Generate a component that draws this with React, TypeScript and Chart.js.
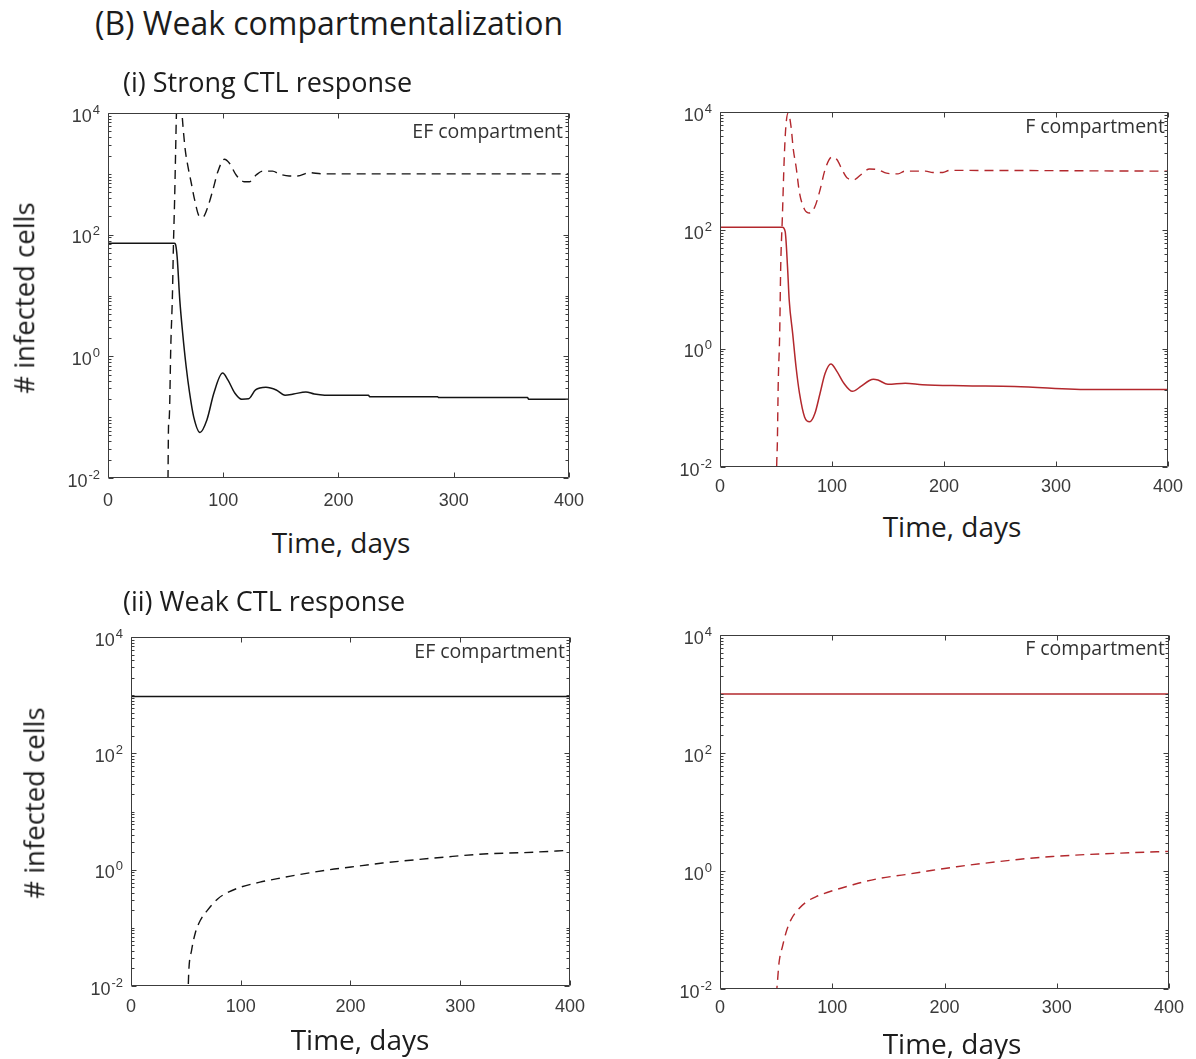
import React, { useEffect, useRef } from "react";
import { Chart, registerables } from "chart.js";

Chart.register(...registerables);

// ---------------- data ----------------
const X_TICKS = [0, 100, 200, 300, 400];
const Y_TICK_EXPONENTS = [-2, 0, 2, 4];
const Y_TICK_BASE = "10";
const Y_TICK_POWERS = ["-2", "0", "2", "4"];

// (i) Strong CTL response, EF compartment
const strongEF_solidDays = [0, 57.5, 58.5, 60, 62.3, 64.8, 67.8, 70.8, 74.4, 79.8, 85.8, 91.9, 99.4, 104, 110, 116, 122, 128, 137, 146, 153.6, 161, 171.7, 179, 188, 226, 227, 286, 287, 364, 365, 400];
const strongEF_solidCells = [72, 72, 70, 43, 8.4, 2.4, 0.68, 0.25, 0.1, 0.056, 0.09, 0.25, 0.53, 0.41, 0.25, 0.197, 0.2, 0.28, 0.31, 0.28, 0.23, 0.24, 0.26, 0.24, 0.23, 0.23, 0.217, 0.217, 0.21, 0.21, 0.197, 0.197];
const strongEF_dashedDays = [50, 52.0, 52.5, 53.2, 54.5, 55.9, 56.8, 57.8, 58.7, 59.4, 61.5, 63.8, 65.1, 67, 69.4, 72.3, 75.2, 79.5, 82.3, 86.7, 91, 95.3, 101, 105.4, 111.2, 118.4, 122.7, 128.5, 134.2, 142.8, 148.6, 157.2, 164.4, 174.5, 186, 400];
const strongEF_dashedCells = [0.001, 0.008, 0.07, 0.1, 1.5, 10, 70, 370, 2450, 10000, 25000, 12000, 5950, 2500, 1310, 700, 372, 198, 195, 290, 542, 1084, 1734, 1490, 955, 743, 743, 955, 1110, 1110, 995, 920, 920, 1045, 1000, 1000];

// (i) Strong CTL response, F compartment
const strongF_solidDays = [0, 55.7, 58.2, 60.3, 61.8, 64.9, 67.9, 71, 75.5, 80.1, 84.7, 89.3, 93.8, 99, 104.5, 110.6, 118.2, 125.8, 133.4, 137, 141, 150, 165.4, 180.7, 217, 263, 334, 400];
const strongF_solidCells = [113, 113, 95, 24, 6.6, 1.8, 0.49, 0.175, 0.07, 0.058, 0.08, 0.175, 0.38, 0.55, 0.41, 0.26, 0.19, 0.23, 0.29, 0.305, 0.295, 0.25, 0.26, 0.245, 0.236, 0.23, 0.204, 0.204];
const strongF_dashedDays = [50, 50.6, 51.2, 52, 53.3, 54.2, 55.7, 57.3, 58.8, 60.9, 63.4, 65.5, 67.9, 71, 75.5, 80.1, 84.7, 89.3, 93.8, 99.9, 104.5, 109, 113.6, 119.7, 125.8, 133.4, 141, 148.7, 159, 165, 183.7, 190, 199, 205, 400];
const strongF_dashedCells = [0.001, 0.01, 0.025, 0.26, 1.8, 24, 170, 1560, 5700, 9600, 5700, 2300, 1200, 430, 225, 196, 250, 480, 1060, 1730, 1560, 1060, 765, 715, 870, 1085, 1060, 925, 900, 1000, 1000, 950, 950, 1030, 1000];

// (ii) Weak CTL response, EF compartment
const weakEF_solidDays = [0, 400];
const weakEF_solidCells = [950, 950];
const weakEF_dashedDays = [51.8, 52.7, 55.2, 58.4, 63.2, 69.6, 79.2, 88.7, 99.9, 117.5, 133.4, 149.4, 181.3, 200.5, 229.2, 261, 293, 325, 357, 400];
const weakEF_dashedCells = [0.006, 0.0186, 0.041, 0.079, 0.135, 0.2, 0.317, 0.41, 0.5, 0.61, 0.7, 0.8, 1.0, 1.11, 1.3, 1.49, 1.69, 1.88, 1.96, 2.15];

// (ii) Weak CTL response, F compartment
const weakF_solidDays = [0, 400];
const weakF_solidCells = [1000, 1000];
const weakF_dashedDays = [50.2, 51.1, 52.6, 55.7, 58.7, 63.3, 69.4, 77, 86, 101.3, 116.5, 128.7, 143.9, 165, 189.5, 210.8, 235, 265.5, 296, 326.4, 357, 400];
const weakF_dashedCells = [0.008, 0.0127, 0.028, 0.053, 0.089, 0.15, 0.22, 0.3, 0.37, 0.47, 0.57, 0.66, 0.76, 0.87, 1.03, 1.18, 1.35, 1.57, 1.76, 1.9, 2.01, 2.15];

// ---------------- styles ----------------
const BLACK = "#141414";
const RED = "#b3282d";
const FRAME_COLOR = "#3c3c3c";
const TICK_LABEL_COLOR = "#3a3a3a";
const TEXT_COLOR = "#1c1c1c";
const TEXT_FONT = '"Open Sans", sans-serif';
const TICK_FONT = '"Liberation Sans", Arial, sans-serif';
const TICK_SIZE = 18;
const EXP_SIZE = 13;

const Y_BOX = 100; // width reserved for y tick labels
const X_BOX = 40; // height reserved for x tick labels
const PAD_TOP = 20;
const PAD_RIGHT = 24;
const MAJOR = 5;
const MINOR = 3;
const Y_LABEL_GAP = 8;

const zip = (xs: number[], ys: number[]) => xs.map((x, i) => ({ x, y: ys[i] }));

const frameTicks = {
  id: "frameTicks",
  afterDatasetsDraw(chart: any) {
    const { ctx, chartArea: a, scales } = chart;
    const xs = scales.x;
    const ys = scales.y;
    ctx.save();
    ctx.strokeStyle = FRAME_COLOR;
    ctx.lineWidth = 1;
    ctx.beginPath();
    const L = Math.round(a.left) + 0.5;
    const R = Math.round(a.right) - 0.5;
    const T = Math.round(a.top) + 0.5;
    const B = Math.round(a.bottom) - 0.5;
    ctx.rect(L, T, R - L, B - T);
    for (const v of X_TICKS) {
      const px = Math.round(xs.getPixelForValue(v)) + 0.5;
      ctx.moveTo(px, B);
      ctx.lineTo(px, B - MAJOR);
      ctx.moveTo(px, T);
      ctx.lineTo(px, T + MAJOR);
    }
    const eMin = Y_TICK_EXPONENTS[0];
    const eMax = Y_TICK_EXPONENTS[Y_TICK_EXPONENTS.length - 1];
    for (let e = eMin; e <= eMax; e++) {
      for (let k = 1; k <= 9; k++) {
        if (e === eMax && k > 1) break;
        const py = Math.round(ys.getPixelForValue(k * Math.pow(10, e))) + 0.5;
        const len = k === 1 && Y_TICK_EXPONENTS.includes(e) ? MAJOR : MINOR;
        ctx.moveTo(L, py);
        ctx.lineTo(L + len, py);
        ctx.moveTo(R, py);
        ctx.lineTo(R - len, py);
      }
    }
    ctx.stroke();

    // y tick labels: "10" with a raised exponent
    ctx.fillStyle = TICK_LABEL_COLOR;
    ctx.textBaseline = "alphabetic";
    ctx.textAlign = "left";
    const right = a.left - Y_LABEL_GAP;
    Y_TICK_EXPONENTS.forEach((e, i) => {
      const py = ys.getPixelForValue(Math.pow(10, e));
      const pow = Y_TICK_POWERS[i];
      ctx.font = `${EXP_SIZE}px ${TICK_FONT}`;
      const we = ctx.measureText(pow).width;
      ctx.font = `${TICK_SIZE}px ${TICK_FONT}`;
      const wb = ctx.measureText(Y_TICK_BASE).width;
      const x0 = right - we - wb - 1;
      ctx.fillText(Y_TICK_BASE, x0, py + 8.5);
      ctx.font = `${EXP_SIZE}px ${TICK_FONT}`;
      ctx.fillText(pow, x0 + wb + 1, py + 0.5);
    });
    ctx.restore();
  },
};

type Area = { L: number; T: number; R: number; B: number };

function Panel(props: {
  area: Area;
  color: string;
  solid: { x: number; y: number }[];
  dashed: { x: number; y: number }[];
  xPad: number;
}) {
  const { area, color, solid, dashed, xPad } = props;
  const ref = useRef<HTMLCanvasElement>(null);
  const width = area.R - area.L + Y_BOX + PAD_RIGHT;
  const height = area.B - area.T + PAD_TOP + X_BOX;

  useEffect(() => {
    if (!ref.current) return;
    const tickFont = { family: TICK_FONT, size: TICK_SIZE };
    const chart = new Chart(ref.current, {
      type: "line",
      data: {
        datasets: [
          {
            data: solid,
            borderColor: color,
            borderWidth: 1.5,
            pointRadius: 0,
            fill: false,
            clip: 0,
            cubicInterpolationMode: "monotone",
          } as any,
          {
            data: dashed,
            borderColor: color,
            borderWidth: 1.4,
            borderDash: [9, 6],
            pointRadius: 0,
            fill: false,
            clip: 0,
            cubicInterpolationMode: "monotone",
          } as any,
        ],
      },
      options: {
        animation: false,
        responsive: false,
        maintainAspectRatio: false,
        events: [],
        layout: { padding: { left: 0, top: PAD_TOP, right: PAD_RIGHT, bottom: 0 } },
        plugins: { legend: { display: false }, tooltip: { enabled: false }, title: { display: false } },
        scales: {
          x: {
            type: "linear",
            min: 0,
            max: 400,
            grid: { display: false, drawTicks: false },
            border: { display: false },
            ticks: { padding: xPad, color: TICK_LABEL_COLOR, font: tickFont, maxRotation: 0 },
            afterBuildTicks: (s: any) => {
              s.ticks = X_TICKS.map((v) => ({ value: v }));
            },
            afterFit: (s: any) => {
              s.height = X_BOX;
            },
          },
          y: {
            type: "logarithmic",
            min: Math.pow(10, Y_TICK_EXPONENTS[0]),
            max: Math.pow(10, Y_TICK_EXPONENTS[Y_TICK_EXPONENTS.length - 1]),
            grid: { display: false, drawTicks: false },
            border: { display: false },
            ticks: { display: false },
            afterBuildTicks: (s: any) => {
              s.ticks = Y_TICK_EXPONENTS.map((e) => ({ value: Math.pow(10, e) }));
            },
            afterFit: (s: any) => {
              s.width = Y_BOX;
            },
          },
        } as any,
      },
      plugins: [frameTicks],
    });
    return () => chart.destroy();
  }, []);

  return (
    <canvas
      ref={ref}
      width={width}
      height={height}
      style={{ position: "absolute", left: area.L - Y_BOX, top: area.T - PAD_TOP, width, height }}
    />
  );
}

function Text(props: {
  text: string;
  x: number;
  y: number;
  size: number;
  anchor?: "left" | "center" | "right";
  rotate?: boolean;
  color?: string;
}) {
  const { text, x, y, size, anchor = "center", rotate = false, color = TEXT_COLOR } = props;
  const tx = anchor === "left" ? "0" : anchor === "right" ? "-100%" : "-50%";
  return (
    <div
      style={{
        position: "absolute",
        left: x,
        top: y,
        fontFamily: TEXT_FONT,
        fontSize: size,
        lineHeight: 1,
        whiteSpace: "nowrap",
        color,
        transform: `translate(${tx}, -50%)${rotate ? " rotate(-90deg)" : ""}`,
        transformOrigin: "center center",
      }}
    >
      {text}
    </div>
  );
}

const P1: Area = { L: 108, T: 113, R: 572, B: 478 };
const P2: Area = { L: 720, T: 112, R: 1168, B: 467 };
const P3: Area = { L: 131, T: 637, R: 571, B: 986 };
const P4: Area = { L: 720, T: 635, R: 1169, B: 989 };

export default function App() {
  return (
    <div
      style={{
        position: "absolute",
        left: 0,
        top: 0,
        width: 1196,
        height: 1059,
        overflow: "hidden",
        background: "#ffffff",
      }}
    >
      <Panel area={P1} color={BLACK} solid={zip(strongEF_solidDays, strongEF_solidCells)} dashed={zip(strongEF_dashedDays, strongEF_dashedCells)} xPad={12} />
      <Panel area={P2} color={RED} solid={zip(strongF_solidDays, strongF_solidCells)} dashed={zip(strongF_dashedDays, strongF_dashedCells)} xPad={9} />
      <Panel area={P3} color={BLACK} solid={zip(weakEF_solidDays, weakEF_solidCells)} dashed={zip(weakEF_dashedDays, weakEF_dashedCells)} xPad={10} />
      <Panel area={P4} color={RED} solid={zip(weakF_solidDays, weakF_solidCells)} dashed={zip(weakF_dashedDays, weakF_dashedCells)} xPad={8} />

      <Text text="(B) Weak compartmentalization" x={95} y={23} size={32} anchor="left" />
      <Text text="(i) Strong CTL response" x={123} y={81} size={27} anchor="left" />
      <Text text="(ii) Weak CTL response" x={123} y={600} size={27} anchor="left" />

      <Text text="# infected cells" x={24} y={298} size={27.5} rotate />
      <Text text="# infected cells" x={34} y={803} size={27.5} rotate />

      <Text text="Time, days" x={341} y={542} size={28} />
      <Text text="Time, days" x={952} y={526} size={28} />
      <Text text="Time, days" x={360} y={1039} size={28} />
      <Text text="Time, days" x={952} y={1043} size={28} />

      <Text text="EF compartment" x={563} y={131} size={19.5} anchor="right" color="#333333" />
      <Text text="F compartment" x={1165} y={126} size={19.5} anchor="right" color="#333333" />
      <Text text="EF compartment" x={565} y={651} size={19.5} anchor="right" color="#333333" />
      <Text text="F compartment" x={1165} y={648} size={19.5} anchor="right" color="#333333" />
    </div>
  );
}
